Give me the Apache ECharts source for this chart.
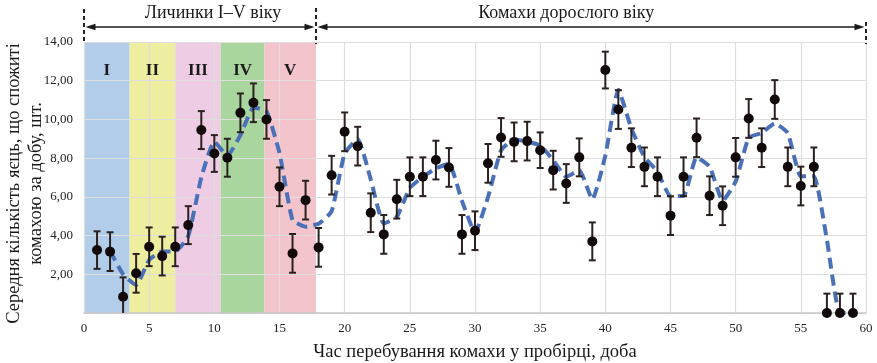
<!DOCTYPE html>
<html>
<head>
<meta charset="utf-8">
<script src="https://cdn.jsdelivr.net/npm/echarts@6/dist/echarts.min.js"></script>
<style>
  html, body { margin: 0; padding: 0; background: #ffffff; }
  #chart { width: 877px; height: 363px; }
</style>
</head>
<body>
<div id="chart"></div>
<script>
// Day of observation (x) and mean eggs eaten per insect per day (y)
const days = [1, 2, 3, 4, 5, 6, 7, 8, 9, 10, 11, 12, 13, 14, 15, 16, 17, 18, 19, 20,
  21, 22, 23, 24, 25, 26, 27, 28, 29, 30, 31, 32, 33, 34, 35, 36, 37, 38, 39, 40,
  41, 42, 43, 44, 45, 46, 47, 48, 49, 50, 51, 52, 53, 54, 55, 56, 57, 58, 59];
const eggs = [3.25, 3.17, 0.84, 2.05, 3.42, 2.94, 3.42, 4.54, 9.45, 8.24,
  8.02, 10.34, 10.86, 10.00, 6.52, 3.08, 5.83, 3.39, 7.12, 9.36,
  8.62, 5.18, 4.06, 5.88, 7.04, 7.04, 7.90, 7.52, 4.06, 4.25,
  7.73, 9.07, 8.84, 8.88, 8.41, 7.38, 6.69, 8.04, 3.70, 12.55,
  10.51, 8.54, 7.55, 7.04, 5.03, 7.04, 9.05, 6.06, 5.54, 8.04,
  10.05, 8.54, 11.03, 7.55, 6.56, 7.55, 0.00, 0.00, 0.00];
// Standard error shown by the whiskers
const errors = [0.97, 1.00, 1.00, 1.00, 1.00, 1.00, 1.00, 0.98, 0.98, 0.95,
  0.98, 1.00, 1.00, 1.00, 1.00, 1.00, 1.00, 1.00, 1.00, 1.00,
  1.00, 1.00, 1.00, 1.00, 1.00, 1.00, 1.00, 1.00, 1.00, 1.00,
  1.00, 1.00, 1.00, 1.00, 0.92, 1.00, 1.00, 0.98, 0.98, 0.95,
  1.00, 1.00, 1.00, 1.00, 1.00, 1.00, 1.00, 1.00, 1.00, 1.00,
  1.00, 1.00, 1.00, 1.00, 1.00, 1.00, 1.00, 1.00, 1.00];
// Dashed trend (two-day moving average), days 2..59
const trendDays = days.slice(1);
const trend = [3.21, 2.00, 1.45, 2.74, 3.18, 3.18, 3.98, 7.00, 8.85,
  8.13, 9.18, 10.60, 10.43, 8.26, 4.80, 4.46, 4.61, 5.26, 8.24,
  8.99, 6.90, 4.62, 4.97, 6.46, 7.04, 7.47, 7.71, 5.79, 4.16,
  5.99, 8.40, 8.96, 8.86, 8.65, 7.90, 7.04, 7.37, 5.87, 8.13,
  11.53, 9.53, 8.05, 7.30, 6.04, 6.04, 8.05, 7.56, 5.80, 6.79,
  9.05, 9.30, 9.79, 9.29, 7.06, 7.06, 3.78, 0.00, 0.00];

// Larval instars and their day ranges
const stages = ['I', 'II', 'III', 'IV', 'V'];
const stageBounds = [0, 3.5, 7, 10.5, 13.85, 17.8];
const stageColors = ['#b1cde9', '#eeeea0', '#eecde4', '#a9d59f', '#f3c4cb'];

// Life periods annotated above the plot
const periods = ['Личинки I–V віку', 'Комахи дорослого віку'];
const periodBounds = [0, 17.8, 60];
const periodCaptionDays = [9.9, 37];

const yTicks = [0, 2, 4, 6, 8, 10, 12, 14];

const serif = '"Liberation Serif", "Times New Roman", serif';
const chart = echarts.init(document.getElementById('chart'), null, { renderer: 'canvas' });

const points = days.map((d, i) => [d, eggs[i]]);
const whiskers = days.map((d, i) => [d, eggs[i] - errors[i], eggs[i] + errors[i]]);
const trendPts = trendDays.map((d, i) => [d, trend[i]]);

const bandAreas = stages.map((s, i) => [
  { xAxis: stageBounds[i], itemStyle: { color: stageColors[i] } },
  { xAxis: stageBounds[i + 1] }
]);

const inkColor = '#120a0a';

chart.setOption({
  animation: false,
  backgroundColor: '#ffffff',
  textStyle: { fontFamily: serif },
  grid: { left: 84, right: 11, top: 42, bottom: 50, outerBoundsMode: 'none', containLabel: false },
  xAxis: {
    type: 'value', min: 0, max: 60, interval: 5, z: 3,
    name: 'Час перебування комахи у пробірці, доба',
    nameLocation: 'middle', nameGap: 30,
    nameTextStyle: { fontFamily: serif, fontSize: 18.5, color: '#1a1a1a' },
    axisLine: { show: true, lineStyle: { color: '#c8c8c8', width: 1.5 } },
    axisTick: { show: false },
    axisLabel: { fontFamily: serif, fontSize: 13, color: '#222', margin: 9 },
    splitLine: { show: true, lineStyle: { color: '#dedede', width: 1.2 } }
  },
  yAxis: {
    type: 'value', min: yTicks[0], max: yTicks[yTicks.length - 1], interval: 2, z: 3,
    axisLine: { show: false },
    axisTick: { show: false },
    axisLabel: {
      fontFamily: serif, fontSize: 13, color: '#222', margin: 11,
      formatter: v => (v === 0 ? '' : v.toFixed(2).replace('.', ','))
    },
    splitLine: { show: true, lineStyle: { color: '#dedede', width: 1.2 } }
  },
  series: [
    {
      // coloured instar bands, under the grid lines
      type: 'line', data: [], z: 1, silent: true,
      markArea: { silent: true, label: { show: false }, data: bandAreas }
    },
    {
      type: 'line', data: trendPts, z: 4, symbol: 'none', smooth: 0.15,
      lineStyle: { color: '#4a70b8', width: 4, type: [11, 6], cap: 'butt' }
    },
    {
      type: 'custom', data: whiskers, z: 5, clip: true,
      renderItem: (params, api) => {
        const x = api.value(0);
        const top = api.coord([x, api.value(2)]);
        const bot = api.coord([x, api.value(1)]);
        const cap = 3.5;
        const st = { stroke: '#2b211f', lineWidth: 2 };
        return {
          type: 'group',
          children: [
            { type: 'line', shape: { x1: top[0], y1: top[1], x2: bot[0], y2: bot[1] }, style: st },
            { type: 'line', shape: { x1: top[0] - cap, y1: top[1], x2: top[0] + cap, y2: top[1] }, style: st },
            { type: 'line', shape: { x1: bot[0] - cap, y1: bot[1], x2: bot[0] + cap, y2: bot[1] }, style: st }
          ]
        };
      }
    },
    {
      type: 'scatter', data: points, z: 6, symbol: 'circle', symbolSize: 10,
      itemStyle: { color: inkColor, opacity: 1 }, clip: false
    }
  ]
});

// Annotations: period brackets, instar numerals and the vertical axis title
function drawAnnotations() {
  const arrowY = 27;
  const els = [];
  const toX = d => chart.convertToPixel({ xAxisIndex: 0 }, d);
  const toY = v => chart.convertToPixel({ yAxisIndex: 0 }, v);
  const px = periodBounds.map(toX);
  const plotTop = toY(yTicks[yTicks.length - 1]);
  const plotBottom = toY(yTicks[0]);
  const dashTops = [9, 8, 22];
  px.forEach((x, i) => {
    els.push({
      type: 'line', z: 10,
      shape: { x1: x, y1: dashTops[i], x2: x, y2: plotTop + 2 },
      style: { stroke: '#222', lineWidth: 2, lineDash: [4, 3] }
    });
  });
  const head = (x, dir) => ({
    type: 'polygon', z: 10,
    shape: { points: [[x, arrowY], [x + dir * 10, arrowY - 3.2], [x + dir * 10, arrowY + 3.2]] },
    style: { fill: '#1a1a1a' }
  });
  for (let i = 0; i < periods.length; i++) {
    const a = px[i] + 1.5, b = px[i + 1] - 1.5;
    els.push({
      type: 'line', z: 10,
      shape: { x1: a + 4, y1: arrowY, x2: b - 4, y2: arrowY },
      style: { stroke: '#1a1a1a', lineWidth: 1.6 }
    });
    els.push(head(a, 1), head(b, -1));
    els.push({
      type: 'text', z: 10,
      x: toX(periodCaptionDays[i]), y: 13,
      style: {
        text: periods[i], fontFamily: serif, fontSize: 18, fill: '#1a1a1a',
        align: 'center', verticalAlign: 'middle'
      }
    });
  }
  stages.forEach((s, i) => {
    els.push({
      type: 'text', z: 10,
      x: toX((stageBounds[i] + stageBounds[i + 1]) / 2), y: plotTop + 29,
      style: {
        text: s, fontFamily: serif, fontSize: 17, fontWeight: 'bold', fill: '#1a1a1a',
        align: 'center', verticalAlign: 'middle'
      }
    });
  });
  els.push({
    type: 'text', z: 10,
    x: 25, y: (plotTop + plotBottom) / 2 + 6, rotation: Math.PI / 2,
    style: {
      text: 'Середня кількість яєць, що спожиті\nкомахою за добу, шт.',
      fontFamily: serif, fontSize: 18.5, lineHeight: 22, fill: '#1a1a1a',
      align: 'center', verticalAlign: 'middle'
    }
  });
  chart.setOption({ graphic: { elements: els } });
}
drawAnnotations();
</script>
</body>
</html>
